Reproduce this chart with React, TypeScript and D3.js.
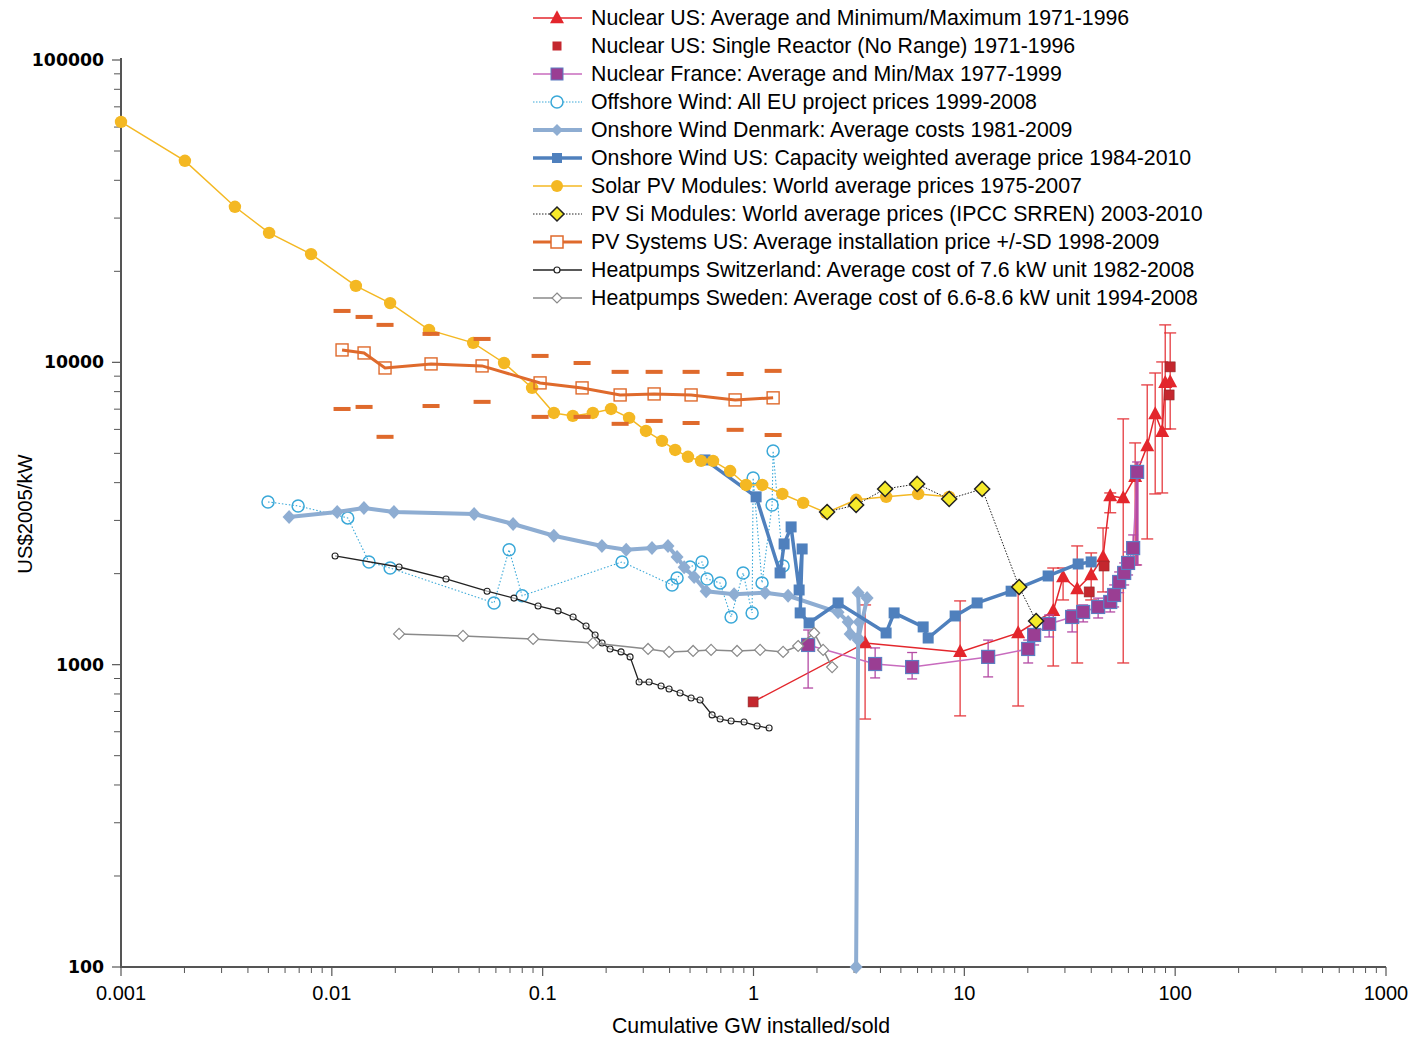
import React from 'react';
import * as d3 from 'd3';

// ---------- DATA ----------
const solarX = [0.001, 0.00201, 0.00347, 0.00504, 0.00797, 0.013, 0.0189, 0.0289, 0.0468, 0.0656, 0.0891, 0.113, 0.139, 0.173, 0.211, 0.257, 0.309, 0.368, 0.425, 0.489, 0.564, 0.643, 0.775, 0.922, 1.1, 1.37, 1.72, 2.21, 3.07, 4.26, 6.04, 8.47];
const solarY = [62400, 46400, 32700, 26800, 22800, 17900, 15700, 12800, 11600, 9950, 8230, 6800, 6650, 6800, 7010, 6550, 5930, 5500, 5130, 4870, 4720, 4720, 4370, 3930, 3930, 3670, 3430, 3180, 3510, 3590, 3670, 3590];

const pvSysX = [0.01118, 0.01422, 0.01788, 0.02955, 0.0516, 0.0972, 0.1538, 0.233, 0.3378, 0.5058, 0.818, 1.239];
const pvSysY = [10990, 10740, 9580, 9880, 9730, 8550, 8230, 7800, 7860, 7800, 7510, 7630];
const pvSysHi = [14790, 14130, 13300, 12420, 11950, 10500, 9950, 9300, 9300, 9300, 9150, 9370];
const pvSysLo = [7010, 7120, 5670, 7170, 7400, 6600, 6600, 6260, 6400, 6300, 5980, 5750];

const dkX = [0.00627, 0.0106, 0.0142, 0.0197, 0.0473, 0.0724, 0.113, 0.191, 0.249, 0.33, 0.393, 0.434, 0.469, 0.523, 0.596, 0.809, 1.135, 1.459, 2.519, 2.811, 2.873, 3.135, 3.17, 3.135, 3.458, 3.135, 3.067];
const dkY = [3080, 3200, 3300, 3200, 3150, 2920, 2670, 2470, 2400, 2430, 2470, 2270, 2100, 1950, 1750, 1710, 1730, 1690, 1490, 1385, 1264, 1225, 1385, 1730, 1660, 1206, 100];

const usWindX = [0.589, 1.029, 1.337, 1.397, 1.508, 1.646, 1.701, 1.665, 1.835, 2.519, 4.256, 4.645, 6.378, 6.737, 9.045, 11.5, 16.67, 24.97, 34.66, 39.96];
const usWindY = [4755, 3590, 2011, 2508, 2855, 1766, 2414, 1483, 1374, 1600, 1273, 1483, 1333, 1225, 1449, 1600, 1750, 1965, 2153, 2187];

const offX = [0.00498, 0.00692, 0.0119, 0.015, 0.0189, 0.0588, 0.0693, 0.0799, 0.238, 0.411, 0.434, 0.5, 0.57, 0.602, 0.694, 0.783, 0.893, 0.985, 0.996, 1.098, 1.225, 1.239, 1.382];
const offY = [3453, 3350, 3058, 2187, 2088, 1600, 2400, 1690, 2187, 1835, 1936, 2104, 2187, 1921, 1864, 1438, 2011, 1483, 4146, 1864, 3376, 5093, 2120];

const chX = [0.01036, 0.02084, 0.0348, 0.0545, 0.0731, 0.0951, 0.1183, 0.1394, 0.1606, 0.1773, 0.1913, 0.2088, 0.2354, 0.2598, 0.2866, 0.3197, 0.3644, 0.3977, 0.4485, 0.5058, 0.558, 0.6362, 0.6944, 0.783, 0.9024, 1.04, 1.186];
const chY = [2289, 2104, 1921, 1750, 1660, 1564, 1506, 1438, 1343, 1254, 1180, 1127, 1102, 1061, 876, 876, 850, 831, 806, 776, 764, 682, 661, 651, 646, 627, 617];

const seX = [0.02084, 0.0419, 0.0901, 0.1734, 0.3162, 0.3977, 0.5171, 0.6293, 0.8358, 1.075, 1.382, 1.628, 1.939, 2.139, 2.36];
const seY = [1264, 1245, 1216, 1180, 1127, 1102, 1110, 1119, 1110, 1119, 1102, 1153, 1273, 1119, 982];

const nucUsX = [3.383, 9.55, 18.0, 26.4, 29.4, 34.3, 39.96, 45.5, 49.2, 56.7, 64.6, 73.7, 80.4, 86.8, 89.7, 94.7];
const nucUsY = [1180, 1102, 1273, 1506, 1950, 1780, 1980, 2270, 3615, 3560, 4180, 5290, 6750, 5890, 8550, 8610];
const nucUsMax = [1576, 1625, 1835, 2088, 2088, 2470, 2342, 2833, 3698, 6500, 5413, 8420, 9220, 10030, 13300, 12510];
const nucUsMin = [661, 677, 730, 990, 1637, 1013, 1637, 1740, 3180, 1013, 2137, 2605, 3670, 3698, 6020, 6020];

const nucSingleX = [0.9956, 39.1, 46.0, 93.6, 94.7];
const nucSingleY = [753, 1740, 2120, 7800, 9660];

const frX = [1.816, 3.775, 5.654, 12.97, 20.08, 21.43, 25.25, 32.46, 36.61, 43.12, 49.2, 51.35, 54.25, 57.3, 59.8, 63.2, 66.0];
const frY = [1162, 1005, 982, 1061, 1127, 1254, 1364, 1438, 1494, 1552, 1612, 1700, 1877, 2011, 2170, 2430, 4340];
const frMax = [1302, 1136, 1097, 1206, 1206, 1394, 1460, 1517, 1576, 1660, 1740, 1835, 2026, 2170, 2360, 2686, 4682];
const frMin = [837, 904, 897, 911, 1013, 1162, 1235, 1283, 1385, 1427, 1494, 1552, 1730, 1835, 1980, 2137, 2137];

const pvSiX = [2.234, 3.067, 4.21, 5.972, 8.473, 12.15, 18.2, 21.9];
const pvSiY = [3200, 3376, 3813, 3961, 3532, 3813, 1807, 1394];

const xTicks = [0.001, 0.01, 0.1, 1, 10, 100, 1000];
const xTickLabels = ['0.001', '0.01', '0.1', '1', '10', '100', '1000'];
const yTicks = [100, 1000, 10000, 100000];
const yTickLabels = ['100', '1000', '10000', '100000'];

const legendLabels = [
  'Nuclear US: Average and Minimum/Maximum 1971-1996',
  'Nuclear US: Single Reactor (No Range) 1971-1996',
  'Nuclear France: Average  and Min/Max 1977-1999',
  'Offshore Wind: All EU project prices 1999-2008',
  'Onshore Wind Denmark: Average costs 1981-2009',
  'Onshore Wind US: Capacity weighted average price 1984-2010',
  'Solar PV Modules:  World average prices 1975-2007',
  'PV Si Modules: World average prices (IPCC SRREN) 2003-2010',
  'PV Systems US: Average installation price +/-SD 1998-2009',
  'Heatpumps Switzerland: Average cost of 7.6 kW unit 1982-2008',
  'Heatpumps Sweden: Average cost of 6.6-8.6 kW unit 1994-2008',
];

// ---------- COLORS ----------
const C = {
  nucUs: '#E3262C',
  nucSingle: '#C4272E',
  frLine: '#C86BBE',
  frFill: '#9A3E93',
  frStroke: '#5C7DC2',
  frBar: '#B44AA4',
  off: '#3AA8D8',
  dk: '#8EADD2',
  us: '#4F80BD',
  solar: '#F4B823',
  pvSiFill: '#F6EA2A',
  pvSys: '#DF6A2C',
  ch: '#222222',
  se: '#8A8A8A',
  axis: '#555555',
};

// ---------- SHAPES ----------
const tri = (cx: number, cy: number, w: number, h: number) =>
  `M${cx},${cy - h * 0.6}L${cx - w / 2},${cy + h * 0.4}L${cx + w / 2},${cy + h * 0.4}Z`;
const dia = (cx: number, cy: number, w: number, h: number) =>
  `M${cx},${cy - h / 2}L${cx + w / 2},${cy}L${cx},${cy + h / 2}L${cx - w / 2},${cy}Z`;

function zip(xs: number[], ys: number[]) {
  return xs.map((v, i) => [v, ys[i]] as [number, number]);
}

export default function App() {
  const W = 1414, H = 1039;
  const x = d3.scaleLog().domain([0.001, 1000]).range([121, 1386]);
  const y = d3.scaleLog().domain([100, 100000]).range([967, 60]);
  const line = d3.line<[number, number]>().x(d => x(d[0])).y(d => y(d[1]));

  const xMinor: number[] = [];
  for (let e = -3; e < 3; e++) for (let m = 2; m <= 9; m++) xMinor.push(m * Math.pow(10, e));
  const yMinor: number[] = [];
  for (let e = 2; e < 5; e++) for (let m = 2; m <= 9; m++) yMinor.push(m * Math.pow(10, e));

  const nucLine = [[nucSingleX[0], nucSingleY[0]] as [number, number], ...zip(nucUsX, nucUsY)];

  const font = "'Liberation Sans', Arial, Helvetica, sans-serif";

  const legendRow = (i: number) => {
    const ly = 18 + i * 28;
    const x1 = 533, x2 = 582, cx = 557;
    let g: React.ReactNode = null;
    switch (i) {
      case 0:
        g = (<g><line x1={x1} x2={x2} y1={ly} y2={ly} stroke={C.nucUs} strokeWidth={1.5} /><path d={tri(cx, ly, 14, 13)} fill={C.nucUs} /></g>);
        break;
      case 1:
        g = (<rect x={cx - 4.5} y={ly - 4.5} width={9} height={9} fill={C.nucSingle} />);
        break;
      case 2:
        g = (<g><line x1={x1} x2={x2} y1={ly} y2={ly} stroke={C.frLine} strokeWidth={1.5} /><rect x={cx - 6} y={ly - 6} width={12} height={12} fill={C.frFill} stroke={C.frStroke} strokeWidth={1} /></g>);
        break;
      case 3:
        g = (<g><line x1={x1} x2={x2} y1={ly} y2={ly} stroke={C.off} strokeWidth={1} strokeDasharray="1.5,1.5" /><circle cx={cx} cy={ly} r={6} fill="white" stroke={C.off} strokeWidth={1.5} /></g>);
        break;
      case 4:
        g = (<g><line x1={x1} x2={x2} y1={ly} y2={ly} stroke={C.dk} strokeWidth={4} /><path d={dia(cx, ly, 12, 12)} fill={C.dk} /></g>);
        break;
      case 5:
        g = (<g><line x1={x1} x2={x2} y1={ly} y2={ly} stroke={C.us} strokeWidth={3.5} /><rect x={cx - 5} y={ly - 5} width={10} height={10} fill={C.us} /></g>);
        break;
      case 6:
        g = (<g><line x1={x1} x2={x2} y1={ly} y2={ly} stroke={C.solar} strokeWidth={1.5} /><circle cx={cx} cy={ly} r={6} fill={C.solar} /></g>);
        break;
      case 7:
        g = (<g><line x1={x1} x2={x2} y1={ly} y2={ly} stroke="#222" strokeWidth={1} strokeDasharray="1.5,1.5" /><path d={dia(cx, ly, 14, 14)} fill={C.pvSiFill} stroke="#222" strokeWidth={1.5} /></g>);
        break;
      case 8:
        g = (<g><line x1={x1} x2={x2} y1={ly} y2={ly} stroke={C.pvSys} strokeWidth={3} /><rect x={cx - 6} y={ly - 6} width={12} height={12} fill="white" stroke={C.pvSys} strokeWidth={1.5} /></g>);
        break;
      case 9:
        g = (<g><line x1={x1} x2={x2} y1={ly} y2={ly} stroke={C.ch} strokeWidth={1.3} /><circle cx={cx} cy={ly} r={3} fill="white" stroke={C.ch} strokeWidth={1.2} /></g>);
        break;
      case 10:
        g = (<g><line x1={x1} x2={x2} y1={ly} y2={ly} stroke={C.se} strokeWidth={1.5} /><path d={dia(cx, ly, 10, 10)} fill="white" stroke={C.se} strokeWidth={1.2} /></g>);
        break;
    }
    return (
      <g key={'leg' + i}>
        {g}
        <text x={591} y={ly} dominantBaseline="central" fontFamily={font} fontSize={21.3} fill="#000">{legendLabels[i]}</text>
      </g>
    );
  };

  return (
    <svg width={W} height={H} style={{ position: 'absolute', left: 0, top: 0, background: 'white' }}>
      <rect x={0} y={0} width={W} height={H} fill="white" />

      {/* Axes */}
      <g>
        {xMinor.map((v, i) => (
          <line key={'xm' + i} x1={x(v)} x2={x(v)} y1={967} y2={973} stroke={C.axis} strokeWidth={1} />
        ))}
        {xTicks.map((v, i) => (
          <g key={'xt' + i}>
            <line x1={x(v)} x2={x(v)} y1={967} y2={976} stroke={C.axis} strokeWidth={1.2} />
            <text x={x(v)} y={993} textAnchor="middle" dominantBaseline="central" fontFamily={font} fontSize={20} fill="#000">{xTickLabels[i]}</text>
          </g>
        ))}
        {yMinor.map((v, i) => (
          <line key={'ym' + i} x1={114} x2={121} y1={y(v)} y2={y(v)} stroke={C.axis} strokeWidth={1} />
        ))}
        {yTicks.map((v, i) => (
          <g key={'yt' + i}>
            <line x1={112} x2={121} y1={y(v)} y2={y(v)} stroke={C.axis} strokeWidth={1.2} />
            <text x={104} y={y(v)} textAnchor="end" dominantBaseline="central" fontFamily="'DejaVu Sans', Verdana, sans-serif" fontWeight="bold" fontSize={17.3} fill="#000">{yTickLabels[i]}</text>
          </g>
        ))}
        <line x1={121} x2={1386} y1={967} y2={967} stroke={C.axis} strokeWidth={2} />
        <line x1={121} x2={121} y1={58} y2={968} stroke={C.axis} strokeWidth={2} />
        <text x={751} y={1026} textAnchor="middle" dominantBaseline="central" fontFamily={font} fontSize={21.3} fill="#000">Cumulative GW installed/sold</text>
        <text transform="translate(25,514) rotate(-90)" textAnchor="middle" dominantBaseline="central" fontFamily={font} fontSize={20.3} fill="#000">US$2005/kW</text>
      </g>

      {/* Nuclear US average with min/max */}
      <g>
        <path d={line(nucLine) || ''} fill="none" stroke={C.nucUs} strokeWidth={1.5} />
        {nucUsX.map((v, i) => (
          <g key={'nu' + i} stroke={C.nucUs} strokeWidth={1.3} opacity={0.9}>
            <line x1={x(v)} x2={x(v)} y1={y(nucUsMax[i])} y2={y(nucUsMin[i])} />
            <line x1={x(v) - 6} x2={x(v) + 6} y1={y(nucUsMax[i])} y2={y(nucUsMax[i])} />
            <line x1={x(v) - 6} x2={x(v) + 6} y1={y(nucUsMin[i])} y2={y(nucUsMin[i])} />
          </g>
        ))}
        {nucUsX.map((v, i) => (
          <path key={'nut' + i} d={tri(x(v), y(nucUsY[i]), 14, 13)} fill={C.nucUs} />
        ))}
      </g>

      {/* Nuclear US single reactor */}
      <g>
        {nucSingleX.map((v, i) => (
          <rect key={'ns' + i} x={x(v) - 5} y={y(nucSingleY[i]) - 5} width={10} height={10} fill={C.nucSingle} stroke="#8a2a2a" strokeWidth={0.6} />
        ))}
      </g>

      {/* Nuclear France */}
      <g>
        <path d={line(zip(frX, frY)) || ''} fill="none" stroke={C.frLine} strokeWidth={1.5} />
        {frX.map((v, i) => (
          <g key={'fb' + i} stroke={C.frBar} strokeWidth={1.3}>
            <line x1={x(v)} x2={x(v)} y1={y(frMax[i])} y2={y(frMin[i])} strokeWidth={i === frX.length - 1 ? 3 : 1.3} />
            <line x1={x(v) - 5} x2={x(v) + 5} y1={y(frMax[i])} y2={y(frMax[i])} />
            <line x1={x(v) - 5} x2={x(v) + 5} y1={y(frMin[i])} y2={y(frMin[i])} />
          </g>
        ))}
        {frX.map((v, i) => (
          <rect key={'fs' + i} x={x(v) - 6.5} y={y(frY[i]) - 6.5} width={13} height={13} fill={C.frFill} stroke={C.frStroke} strokeWidth={1.2} />
        ))}
      </g>

      {/* Offshore wind */}
      <g>
        <path d={line(zip(offX, offY)) || ''} fill="none" stroke={C.off} strokeWidth={1.1} strokeDasharray="1.5,2" />
        {offX.map((v, i) => (
          <circle key={'of' + i} cx={x(v)} cy={y(offY[i])} r={6} fill="white" fillOpacity={0} stroke={C.off} strokeWidth={1.5} />
        ))}
      </g>

      {/* Onshore wind Denmark */}
      <g>
        <path d={line(zip(dkX, dkY)) || ''} fill="none" stroke={C.dk} strokeWidth={4} strokeLinejoin="round" />
        {dkX.map((v, i) => (
          <path key={'dk' + i} d={dia(x(v), y(dkY[i]), 13, 14)} fill={C.dk} />
        ))}
      </g>

      {/* Onshore wind US */}
      <g>
        <path d={line(zip(usWindX, usWindY)) || ''} fill="none" stroke={C.us} strokeWidth={3.5} strokeLinejoin="round" />
        {usWindX.map((v, i) => (
          <rect key={'us' + i} x={x(v) - 5.5} y={y(usWindY[i]) - 5.5} width={11} height={11} fill={C.us} />
        ))}
      </g>

      {/* Solar PV modules */}
      <g>
        <path d={line(zip(solarX, solarY)) || ''} fill="none" stroke={C.solar} strokeWidth={1.5} />
        {solarX.map((v, i) => (
          <circle key={'so' + i} cx={x(v)} cy={y(solarY[i])} r={6.2} fill={C.solar} />
        ))}
      </g>

      {/* PV Si modules */}
      <g>
        <path d={line(zip(pvSiX, pvSiY)) || ''} fill="none" stroke="#222" strokeWidth={1} strokeDasharray="1.5,1.5" />
        {pvSiX.map((v, i) => (
          <path key={'si' + i} d={dia(x(v), y(pvSiY[i]), 15, 15)} fill={C.pvSiFill} stroke="#222" strokeWidth={1.5} />
        ))}
      </g>

      {/* PV Systems US */}
      <g>
        <path d={line(zip(pvSysX, pvSysY)) || ''} fill="none" stroke={C.pvSys} strokeWidth={3} />
        {pvSysX.map((v, i) => (
          <g key={'ps' + i} fill={C.pvSys}>
            <rect x={x(v) - 8.5} y={y(pvSysHi[i]) - 2} width={17} height={4} />
            <rect x={x(v) - 8.5} y={y(pvSysLo[i]) - 2} width={17} height={4} />
          </g>
        ))}
        {pvSysX.map((v, i) => (
          <rect key={'pq' + i} x={x(v) - 6} y={y(pvSysY[i]) - 6} width={12} height={12} fill="none" stroke={C.pvSys} strokeWidth={1.4} />
        ))}
      </g>

      {/* Heatpumps Switzerland */}
      <g>
        <path d={line(zip(chX, chY)) || ''} fill="none" stroke={C.ch} strokeWidth={1.3} />
        {chX.map((v, i) => (
          <circle key={'ch' + i} cx={x(v)} cy={y(chY[i])} r={3} fill="white" fillOpacity={0.6} stroke={C.ch} strokeWidth={1.1} />
        ))}
      </g>

      {/* Heatpumps Sweden */}
      <g>
        <path d={line(zip(seX, seY)) || ''} fill="none" stroke={C.se} strokeWidth={1.5} />
        {seX.map((v, i) => (
          <path key={'se' + i} d={dia(x(v), y(seY[i]), 11, 11)} fill="white" stroke={C.se} strokeWidth={1.2} />
        ))}
      </g>

      {/* Legend */}
      <g>{legendLabels.map((_, i) => legendRow(i))}</g>
    </svg>
  );
}
